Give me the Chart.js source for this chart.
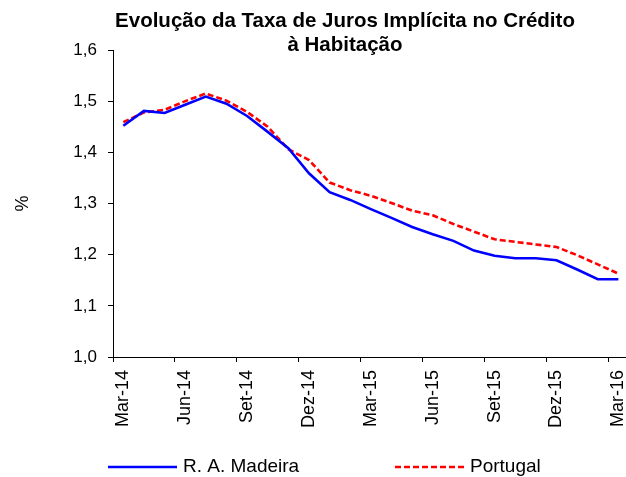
<!DOCTYPE html>
<html>
<head>
<meta charset="utf-8">
<script src="https://cdn.jsdelivr.net/npm/chart.js@4"></script>
<style>
    html, body { margin: 0; padding: 0; background: #fff; overflow: hidden; }
    #GraficoTaxa { display: block; }
</style>
</head>
<body>
<canvas id="GraficoTaxa" width="648" height="477"></canvas>
<script>
//
// DATOS
//
var meses = ["Mar-14", "Abr-14", "Mai-14", "Jun-14", "Jul-14", "Ago-14", "Set-14", "Out-14", "Nov-14", "Dez-14", "Jan-15", "Fev-15",
    "Mar-15", "Abr-15", "Mai-15", "Jun-15", "Jul-15", "Ago-15", "Set-15", "Out-15", "Nov-15", "Dez-15", "Jan-16", "Fev-16", "Mar-16"];
var madeira = [1.452, 1.481, 1.477, 1.493, 1.509, 1.495, 1.471, 1.440, 1.408, 1.359, 1.322, 1.307,
    1.289, 1.272, 1.254, 1.240, 1.227, 1.208, 1.198, 1.193, 1.193, 1.189, 1.171, 1.152, 1.152];
var portugal = [1.459, 1.478, 1.483, 1.500, 1.515, 1.501, 1.479, 1.450, 1.406, 1.385, 1.341, 1.326,
    1.315, 1.301, 1.286, 1.277, 1.260, 1.245, 1.230, 1.225, 1.220, 1.215, 1.199, 1.181, 1.163];
var titulo = ["Evolução da Taxa de Juros Implícita no Crédito", "à Habitação"];
var series = ["R. A. Madeira", "Portugal"];

var fuente = '"Liberation Sans", Arial, sans-serif';

//
// TITULO Y LEYENDA (dibujados a mano)
//
var pluginTitulo = {
    id: 'titulo',
    afterDraw: function (chart) {
        var ctx = chart.ctx;
        ctx.save();
        ctx.fillStyle = '#000';
        ctx.font = 'bold 20.5px ' + fuente;
        ctx.textAlign = 'center';
        ctx.textBaseline = 'middle';
        ctx.fillText(titulo[0], 345, 21);
        ctx.fillText(titulo[1], 345, 45);
        ctx.restore();
    }
};

var pluginLeyenda = {
    id: 'leyenda',
    afterDraw: function (chart) {
        var ctx = chart.ctx;
        var xs = [108, 395];
        var y = 467;
        ctx.save();
        ctx.font = '19px ' + fuente;
        ctx.textBaseline = 'middle';
        chart.data.datasets.forEach(function (ds, i) {
            ctx.strokeStyle = ds.borderColor;
            ctx.lineWidth = ds.borderWidth;
            ctx.setLineDash(ds.borderDash || []);
            ctx.beginPath();
            ctx.moveTo(xs[i], y);
            ctx.lineTo(xs[i] + 69, y);
            ctx.stroke();
            ctx.fillStyle = '#000';
            ctx.fillText(ds.label, xs[i] + 75, y);
        });
        ctx.restore();
    }
};

//
// GRAFICO
//
new Chart(document.getElementById("GraficoTaxa"), {
    type: 'line',
    data: {
        labels: meses,
        datasets: [{
            label: series[0],
            data: madeira,
            borderColor: "#0000ff",
            borderWidth: 2.6,
            pointRadius: 0,
            fill: false
        }, {
            label: series[1],
            data: portugal,
            borderColor: "#ff0000",
            borderWidth: 2.6,
            borderDash: [6, 3],
            pointRadius: 0,
            fill: false
        }]
    },
    options: {
        responsive: false,
        animation: false,
        devicePixelRatio: 1,
        layout: { padding: { top: 50, right: 0, bottom: 50, left: 0 } },
        plugins: {
            legend: { display: false },
            title: { display: false },
            tooltip: { enabled: false }
        },
        scales: {
            x: {
                offset: true,
                grid: {
                    offset: true,
                    drawOnChartArea: false,
                    tickLength: 5,
                    color: function (c) { return c.index % 3 === 0 ? '#000' : 'rgba(0,0,0,0)'; }
                },
                border: { color: '#000', width: 1 },
                ticks: {
                    autoSkip: false,
                    maxRotation: 90,
                    minRotation: 90,
                    padding: 8,
                    color: '#000',
                    font: { family: fuente, size: 18 },
                    callback: function (v, i) { return i % 3 === 0 ? meses[i] : ''; }
                },
                afterFit: function (eje) { eje.height = 70; }
            },
            y: {
                min: 1,
                max: 1.6,
                grid: { drawOnChartArea: false, tickLength: 5, color: '#000' },
                border: { color: '#000', width: 1 },
                ticks: {
                    stepSize: 0.1,
                    padding: 11,
                    color: '#000',
                    font: { family: fuente, size: 17 },
                    callback: function (v) { return v.toFixed(1).replace('.', ','); }
                },
                title: {
                    display: true,
                    text: '%',
                    color: '#000',
                    font: { family: fuente, size: 18 },
                    padding: { top: 12, bottom: 0 }
                },
                afterFit: function (eje) { eje.width = 113; }
            }
        }
    },
    plugins: [pluginTitulo, pluginLeyenda]
});
</script>
</body>
</html>
